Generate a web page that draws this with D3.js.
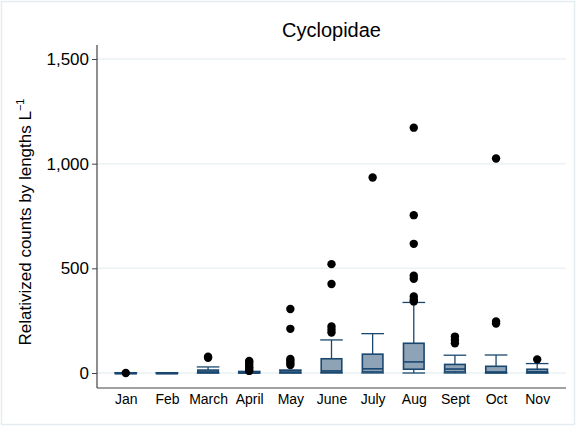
<!DOCTYPE html>
<html>
<head>
<meta charset="utf-8">
<script src="https://cdn.jsdelivr.net/npm/d3@7"></script>
<style>
  body { margin: 0; background: #fff; }
  svg { display: block; font-family: "Liberation Sans", Arial, sans-serif; }
</style>
</head>
<body>
<svg id="chart" width="576" height="426"></svg>
<script>
const months = ["Jan", "Feb", "March", "April", "May", "June", "July", "Aug", "Sept", "Oct", "Nov"];
const q1 = [0, 0, 1, 0, 1, 3, 5, 18, 5, 1, 1];
const medians = [0, 0, 5, 1, 4, 10, 20, 53, 19, 5, 6];
const q3 = [1, 1, 14, 5, 12, 68, 90, 142, 41, 32, 18];
const whiskerLow = [0, 0, 0, 0, 0, 0, 0, 0, 0, 0, 0];
const whiskerHigh = [1, 1, 29, 8, 14, 158, 188, 337, 85, 86, 45];
const outliers = [
	[0],
	[],
	[73, 78],
	[57, 50, 38, 28, 19, 10],
	[306, 211, 67, 58, 48, 38],
	[520, 425, 222, 207, 193],
	[934],
	[1172, 754, 617, 465, 450, 366, 350, 342],
	[174, 158, 142],
	[1025, 246, 236],
	[65]
];
const yTicks = [0, 500, 1000, 1500];

const svg = d3.select("#chart");
const width = 576, height = 426;

const margin = { top: 45, bottom: 38, left: 97, right: 10 };
const plotRight = width - margin.right;
const plotBottom = height - margin.bottom;

const data = months.map((m, i) => ({
	month: m,
	q1: q1[i],
	median: medians[i],
	q3: q3[i],
	lo: whiskerLow[i],
	hi: whiskerHigh[i],
	out: outliers[i]
}));

// outer frame
svg.append("rect")
	.attr("x", 1.5).attr("y", 1.5)
	.attr("width", width - 3).attr("height", height - 3)
	.attr("fill", "#fff")
	.attr("stroke", "#e3ecef")
	.attr("stroke-width", 1.5);

const scaleX = d3.scalePoint()
	.domain(months)
	.range([margin.left, plotRight])
	.padding(0.7);

const scaleY = d3.scaleLinear()
	.domain([0, 1500])
	.range([373, 59]);

const boxW = scaleX.step() * 0.5;
const capW = boxW * 0.55;
const navy = "#1a476f";

// grid
svg.append("g")
	.selectAll("line")
	.data(yTicks)
	.join("line")
	.attr("x1", margin.left).attr("x2", plotRight)
	.attr("y1", d => scaleY(d)).attr("y2", d => scaleY(d))
	.attr("stroke", "#eaf2f3")
	.attr("stroke-width", 1.5);

// y axis
const yAxis = d3.axisLeft(scaleY)
	.tickValues(yTicks)
	.tickFormat(d3.format(","))
	.tickSize(5)
	.tickPadding(3);
const gy = svg.append("g")
	.attr("transform", `translate(${margin.left},0)`)
	.call(yAxis);
gy.select(".domain").remove();
gy.selectAll("text").attr("font-size", 17).attr("fill", "#000").attr("font-family", "Liberation Sans, Arial, sans-serif");
gy.selectAll("line").attr("stroke", "#444");
svg.append("line")
	.attr("x1", margin.left).attr("x2", margin.left)
	.attr("y1", margin.top).attr("y2", plotBottom)
	.attr("stroke", "#444").attr("stroke-width", 1.2);

// x axis
const xAxis = d3.axisBottom(scaleX).tickSize(0).tickPadding(6);
const gx = svg.append("g")
	.attr("transform", `translate(0,${plotBottom})`)
	.call(xAxis);
gx.select(".domain").remove();
gx.selectAll("text").attr("font-size", 14).attr("fill", "#000").attr("font-family", "Liberation Sans, Arial, sans-serif");
svg.append("line")
	.attr("x1", margin.left).attr("x2", plotRight)
	.attr("y1", plotBottom).attr("y2", plotBottom)
	.attr("stroke", "#444").attr("stroke-width", 1.2);

// boxes
const boxes = svg.append("g")
	.selectAll("g")
	.data(data)
	.join("g")
	.attr("transform", d => `translate(${scaleX(d.month)},0)`);

boxes.append("line")
	.attr("y1", d => scaleY(d.q3)).attr("y2", d => scaleY(d.hi))
	.attr("stroke", navy).attr("stroke-width", 1.3);
boxes.append("line")
	.attr("y1", d => scaleY(d.q1)).attr("y2", d => scaleY(d.lo))
	.attr("stroke", navy).attr("stroke-width", 1.3);
boxes.append("line")
	.attr("x1", -capW).attr("x2", capW)
	.attr("y1", d => scaleY(d.hi)).attr("y2", d => scaleY(d.hi))
	.attr("stroke", navy).attr("stroke-width", 1.3);
boxes.append("line")
	.attr("x1", -capW).attr("x2", capW)
	.attr("y1", d => scaleY(d.lo)).attr("y2", d => scaleY(d.lo))
	.attr("stroke", navy).attr("stroke-width", 1.3);
boxes.append("rect")
	.attr("x", -boxW / 2)
	.attr("width", boxW)
	.attr("y", d => scaleY(d.q3))
	.attr("height", d => Math.max(1, scaleY(d.q1) - scaleY(d.q3)))
	.attr("fill", "#8fa3b7")
	.attr("stroke", navy)
	.attr("stroke-width", 1.6);
boxes.append("line")
	.attr("x1", -boxW / 2).attr("x2", boxW / 2)
	.attr("y1", d => scaleY(d.median)).attr("y2", d => scaleY(d.median))
	.attr("stroke", navy).attr("stroke-width", 1.6);

boxes.selectAll("circle")
	.data(d => d.out)
	.join("circle")
	.attr("cx", 0)
	.attr("cy", v => scaleY(v))
	.attr("r", 4.2)
	.attr("fill", "#000");

// title
svg.append("text")
	.attr("x", (margin.left + plotRight) / 2)
	.attr("y", 37)
	.attr("text-anchor", "middle")
	.attr("font-size", 20)
	.text("Cyclopidae");

// y title
const yTitle = svg.append("text")
	.attr("transform", "translate(31,222) rotate(-90)")
	.attr("text-anchor", "middle")
	.attr("font-size", 17);
yTitle.append("tspan").text("Relativized counts by lengths L");
yTitle.append("tspan").attr("dy", -7).attr("font-size", 11).text("−1");
</script>
</body>
</html>
